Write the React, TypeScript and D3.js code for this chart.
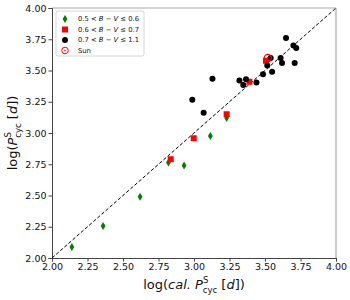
import * as d3 from 'd3';
import { useRef, useEffect } from 'react';

// group 0.5 < B-V <= 0.6
const greenX = [2.14, 2.36, 2.62, 2.82, 2.93, 3.115, 3.23];
const greenY = [2.088, 2.256, 2.49, 2.765, 2.74, 2.976, 3.12];
// group 0.6 < B-V <= 0.7
const redX = [2.836, 2.998, 3.23, 3.39, 3.507];
const redY = [2.79, 2.958, 3.15, 3.41, 3.578];
// group 0.7 < B-V <= 1.1
const blackX = [2.988, 3.068, 3.13, 3.32, 3.347, 3.366, 3.44, 3.486, 3.516, 3.54, 3.55, 3.61, 3.62, 3.648, 3.70, 3.72, 3.709];
const blackY = [3.266, 3.162, 3.434, 3.42, 3.384, 3.43, 3.405, 3.47, 3.54, 3.60, 3.49, 3.60, 3.56, 3.76, 3.70, 3.68, 3.56];
const sunX = [3.52];
const sunY = [3.60];

const ticks = [2.0, 2.25, 2.5, 2.75, 3.0, 3.25, 3.5, 3.75, 4.0];
const legendLabels = [
  ['0.5 < ', 'B', ' − ', 'V', ' ≤ 0.6'],
  ['0.6 < ', 'B', ' − ', 'V', ' ≤ 0.7'],
  ['0.7 < ', 'B', ' − ', 'V', ' ≤ 1.1'],
  ['Sun'],
];

export default function App() {
  const svgRef = useRef(null);

  useEffect(() => {
    const width = 350;
    const height = 300;
    const margin = { left: 52, right: 14, top: 8, bottom: 42 };
    const font = 'DejaVu Sans';

    const x = d3.scaleLinear().domain([2, 4]).range([margin.left, width - margin.right]);
    const y = d3.scaleLinear().domain([2, 4]).range([height - margin.bottom, margin.top]);

    const svg = d3.select(svgRef.current)
      .attr('width', width)
      .attr('height', height)
      .style('font-family', font);
    svg.selectAll('*').remove();

    // frame
    svg.append('line').attr('x1', x(2)).attr('x2', x(4)).attr('y1', y(4)).attr('y2', y(4)).attr('stroke', '#aaa').attr('stroke-width', 1.2);
    svg.append('line').attr('x1', x(4)).attr('x2', x(4)).attr('y1', y(2)).attr('y2', y(4)).attr('stroke', '#aaa').attr('stroke-width', 1.2);

    const xAxis = svg.append('g')
      .attr('transform', `translate(0,${y(2)})`)
      .call(d3.axisBottom(x).tickValues(ticks).tickFormat(d3.format('.2f')).tickSize(3.5).tickPadding(1.5));
    const yAxis = svg.append('g')
      .attr('transform', `translate(${x(2)},0)`)
      .call(d3.axisLeft(y).tickValues(ticks).tickFormat(d3.format('.2f')).tickSize(3.5).tickPadding(2));
    [xAxis, yAxis].forEach((g) => {
      g.selectAll('path').attr('stroke', '#444').attr('stroke-width', 1);
      g.selectAll('line').attr('stroke', '#444');
      g.selectAll('text').attr('font-family', font).attr('font-size', 9.5).attr('fill', '#111');
    });

    // 1:1 line
    svg.append('line')
      .attr('x1', x(2)).attr('y1', y(2)).attr('x2', x(4)).attr('y2', y(4))
      .attr('stroke', '#000').attr('stroke-width', 1).attr('stroke-dasharray', '3.5,2');

    const diamond = (cx, cy) => `M${cx},${cy - 4} L${cx + 2.4},${cy} L${cx},${cy + 4} L${cx - 2.4},${cy} Z`;

    svg.append('g').selectAll('path')
      .data(d3.range(greenX.length))
      .enter().append('path')
      .attr('d', (i) => diamond(x(greenX[i]), y(greenY[i])))
      .attr('fill', '#008000');

    svg.append('g').selectAll('rect')
      .data(d3.range(redX.length))
      .enter().append('rect')
      .attr('x', (i) => x(redX[i]) - 3)
      .attr('y', (i) => y(redY[i]) - 3)
      .attr('width', 6).attr('height', 6)
      .attr('fill', '#ff0000');

    svg.append('g').selectAll('circle')
      .data(d3.range(blackX.length))
      .enter().append('circle')
      .attr('cx', (i) => x(blackX[i]))
      .attr('cy', (i) => y(blackY[i]))
      .attr('r', 3)
      .attr('fill', '#000');

    const sun = svg.append('g');
    sunX.forEach((sx, i) => {
      sun.append('circle').attr('cx', x(sx)).attr('cy', y(sunY[i])).attr('r', 3.6)
        .attr('fill', 'none').attr('stroke', '#ff0000').attr('stroke-width', 1.1);
      sun.append('circle').attr('cx', x(sx)).attr('cy', y(sunY[i])).attr('r', 0.9).attr('fill', '#ff0000');
    });

    // legend
    const lg = svg.append('g').attr('transform', `translate(${x(2) + 4},${y(4) + 3})`);
    lg.append('rect').attr('width', 88).attr('height', 45).attr('rx', 2)
      .attr('fill', '#fff').attr('fill-opacity', 0.8).attr('stroke', '#ccc').attr('stroke-width', 0.8);
    legendLabels.forEach((parts, i) => {
      const cy = 8 + i * 10.5;
      const mx = 9;
      if (i === 0) lg.append('path').attr('d', diamond(mx, cy)).attr('fill', '#008000');
      if (i === 1) lg.append('rect').attr('x', mx - 3).attr('y', cy - 3).attr('width', 6).attr('height', 6).attr('fill', '#ff0000');
      if (i === 2) lg.append('circle').attr('cx', mx).attr('cy', cy).attr('r', 3).attr('fill', '#000');
      if (i === 3) {
        lg.append('circle').attr('cx', mx).attr('cy', cy).attr('r', 3.3).attr('fill', 'none').attr('stroke', '#ff0000').attr('stroke-width', 1);
        lg.append('circle').attr('cx', mx).attr('cy', cy).attr('r', 0.8).attr('fill', '#ff0000');
      }
      const t = lg.append('text').attr('x', 22).attr('y', cy + 2.3).attr('font-size', 6.8).attr('fill', '#111');
      parts.forEach((p) => {
        t.append('tspan').attr('font-style', p === 'B' || p === 'V' ? 'italic' : 'normal').text(p);
      });
    });

    // axis title with stacked super/subscript
    const title = (t) => {
      t.append('tspan').attr('font-style', 'italic').text('P');
      t.append('tspan').attr('font-size', 8.5).attr('dy', -6).text('S');
      t.append('tspan').attr('font-size', 8.5).attr('dy', 10).attr('dx', -5.5).text('cyc');
      t.append('tspan').attr('dy', -4).text(' [');
      t.append('tspan').attr('font-style', 'italic').text('d');
      t.append('tspan').text('])');
    };

    const xl = svg.append('text')
      .attr('x', (x(2) + x(4)) / 2).attr('y', 289)
      .attr('text-anchor', 'middle').attr('font-size', 13).attr('fill', '#111');
    xl.append('tspan').text('log(');
    xl.append('tspan').attr('font-style', 'italic').text('cal.');
    xl.append('tspan').text('  ');
    title(xl);

    const yl = svg.append('text')
      .attr('transform', `translate(17,${(y(2) + y(4)) / 2}) rotate(-90)`)
      .attr('text-anchor', 'middle').attr('font-size', 13).attr('fill', '#111');
    yl.append('tspan').text('log(');
    title(yl);
  }, []);

  return (
    <div style={{ position: 'absolute', left: 0, top: 0 }}>
      <svg ref={svgRef}></svg>
    </div>
  );
}
